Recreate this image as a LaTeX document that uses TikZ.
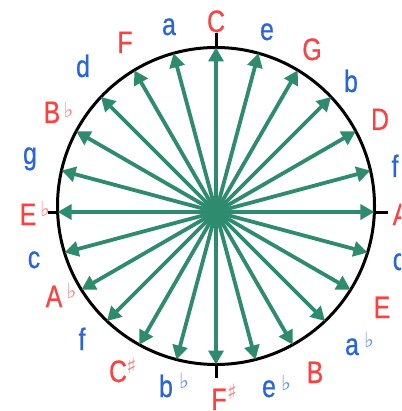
\documentclass[tikz,border=0pt]{standalone}
\usepackage{fontspec}
\setmainfont{Liberation Sans}
\newfontfamily\labfont[FakeStretch=0.8,FakeBold=0.5]{Liberation Sans}
\newfontfamily\symfont{DejaVu Sans}
\usetikzlibrary{arrows.meta,calc}
\definecolor{spoke}{RGB}{46,139,110}
\definecolor{keyred}{RGB}{255,64,64}
\definecolor{keyblue}{RGB}{40,100,220}
\definecolor{accred}{RGB}{255,130,130}
\definecolor{accblue}{RGB}{100,140,235}
\begin{document}
\begin{tikzpicture}[x=1pt,y=-1pt,
  lab/.style={font=\labfont\fontsize{31}{31}\selectfont, inner sep=0pt, anchor=base},
  accs/.style={font=\symfont\fontsize{21}{21}\selectfont, inner sep=0pt},
  spokeline/.style={draw=spoke, line width=3.8pt, -{Triangle[length=14pt,width=15pt]}},
  ring/.style={draw=black, line width=3pt},
  tickline/.style={draw=black, line width=3pt}]
\useasboundingbox (0,0) rectangle (401,411);
\clip (0,0) rectangle (401,411);
\fill[white] (0,0) rectangle (401,411);
% circle
\coordinate (cc) at (216,206);
\draw[ring] (cc) circle[radius=158.5pt];
% spoke origin and tips
\coordinate (O) at (216,212);
\foreach \i in {0,...,23}{
  \pgfmathsetmacro\th{15*\i}
  \pgfmathsetmacro\t{6*cos(\th)+158.5*sqrt(1-0.001433*sin(\th)^2)}
  \coordinate (tip\i) at ({216+\t*sin(\th)},{212-\t*cos(\th)});
}
% ticks
\coordinate (tkN) at (216,33);
\coordinate (tkE) at (388,212);
\coordinate (tkS) at (216,378);
\coordinate (tkW) at (48,212);
\draw[tickline] (tip0) -- (tkN);
\draw[tickline] (tip6) -- (tkE);
\draw[tickline] (tip12) -- (tkS);
\draw[tickline] (tip18) -- (tkW);
% spokes
\foreach \i in {0,...,23}{
  \draw[spokeline] (O) -- (tip\i);
}
% labels
\node[lab, text=keyred]  (lC)  at (216,32)  {C};
\node[lab, text=keyblue] (le)  at (267,40)  {e};
\node[lab, text=keyred]  (lG)  at (312,60)  {G};
\node[lab, text=keyblue] (lb)  at (351,92)  {b};
\node[lab, text=keyred]  (lD)  at (380,130) {D};
\node[lab, text=keyblue] (lfs) at (395,177) {f};
\node[lab, text=keyred]  (lA)  at (401,225) {A};
\node[lab, text=keyblue] (lcs) at (399,270) {c};
\node[lab, text=keyred]  (lE)  at (382,318) {E};
\node[lab, text=keyblue] (lab) at (352,355) {a};
\node[lab, text=keyred]  (lB)  at (315,383) {B};
\node[lab, text=keyblue] (leb) at (269,397) {e};
\node[lab, text=keyred]  (lFs) at (219,410) {F};
\node[lab, text=keyblue] (lbb) at (166,397) {b};
\node[lab, text=keyred]  (lCs) at (118,382) {C};
\node[lab, text=keyblue] (lf)  at (82,350)  {f};
\node[lab, text=keyred]  (lAb) at (54,307)  {A};
\node[lab, text=keyblue] (lc)  at (34,268)  {c};
\node[lab, text=keyred]  (lEb) at (28,225)  {E};
\node[lab, text=keyblue] (lg)  at (30,164)  {g};
\node[lab, text=keyred]  (lBb) at (52,123)  {B};
\node[lab, text=keyblue] (ld)  at (83,77)   {d};
\node[lab, text=keyred]  (lF)  at (125,53)  {F};
\node[lab, text=keyblue] (la)  at (169,35)  {a};
% accidentals
\node[accs, text=accred]  (aBb) at (68.5,110) {♭};
\node[accs, text=accred]  (aEb) at (45,209)   {♭};
\node[accs, text=accred]  (aAb) at (71.5,291) {♭};
\node[accs, text=accblue] (abb) at (184,381)  {♭};
\node[accs, text=accblue] (aab) at (369,340)  {♭};
\node[accs, text=accblue] (aeb) at (286,383)  {♭};
\node[accs, text=accred]  (aCs) at (131.5,366) {♯};
\node[accs, text=accred]  (aFs) at (232,392)  {♯};
\end{tikzpicture}
\end{document}
